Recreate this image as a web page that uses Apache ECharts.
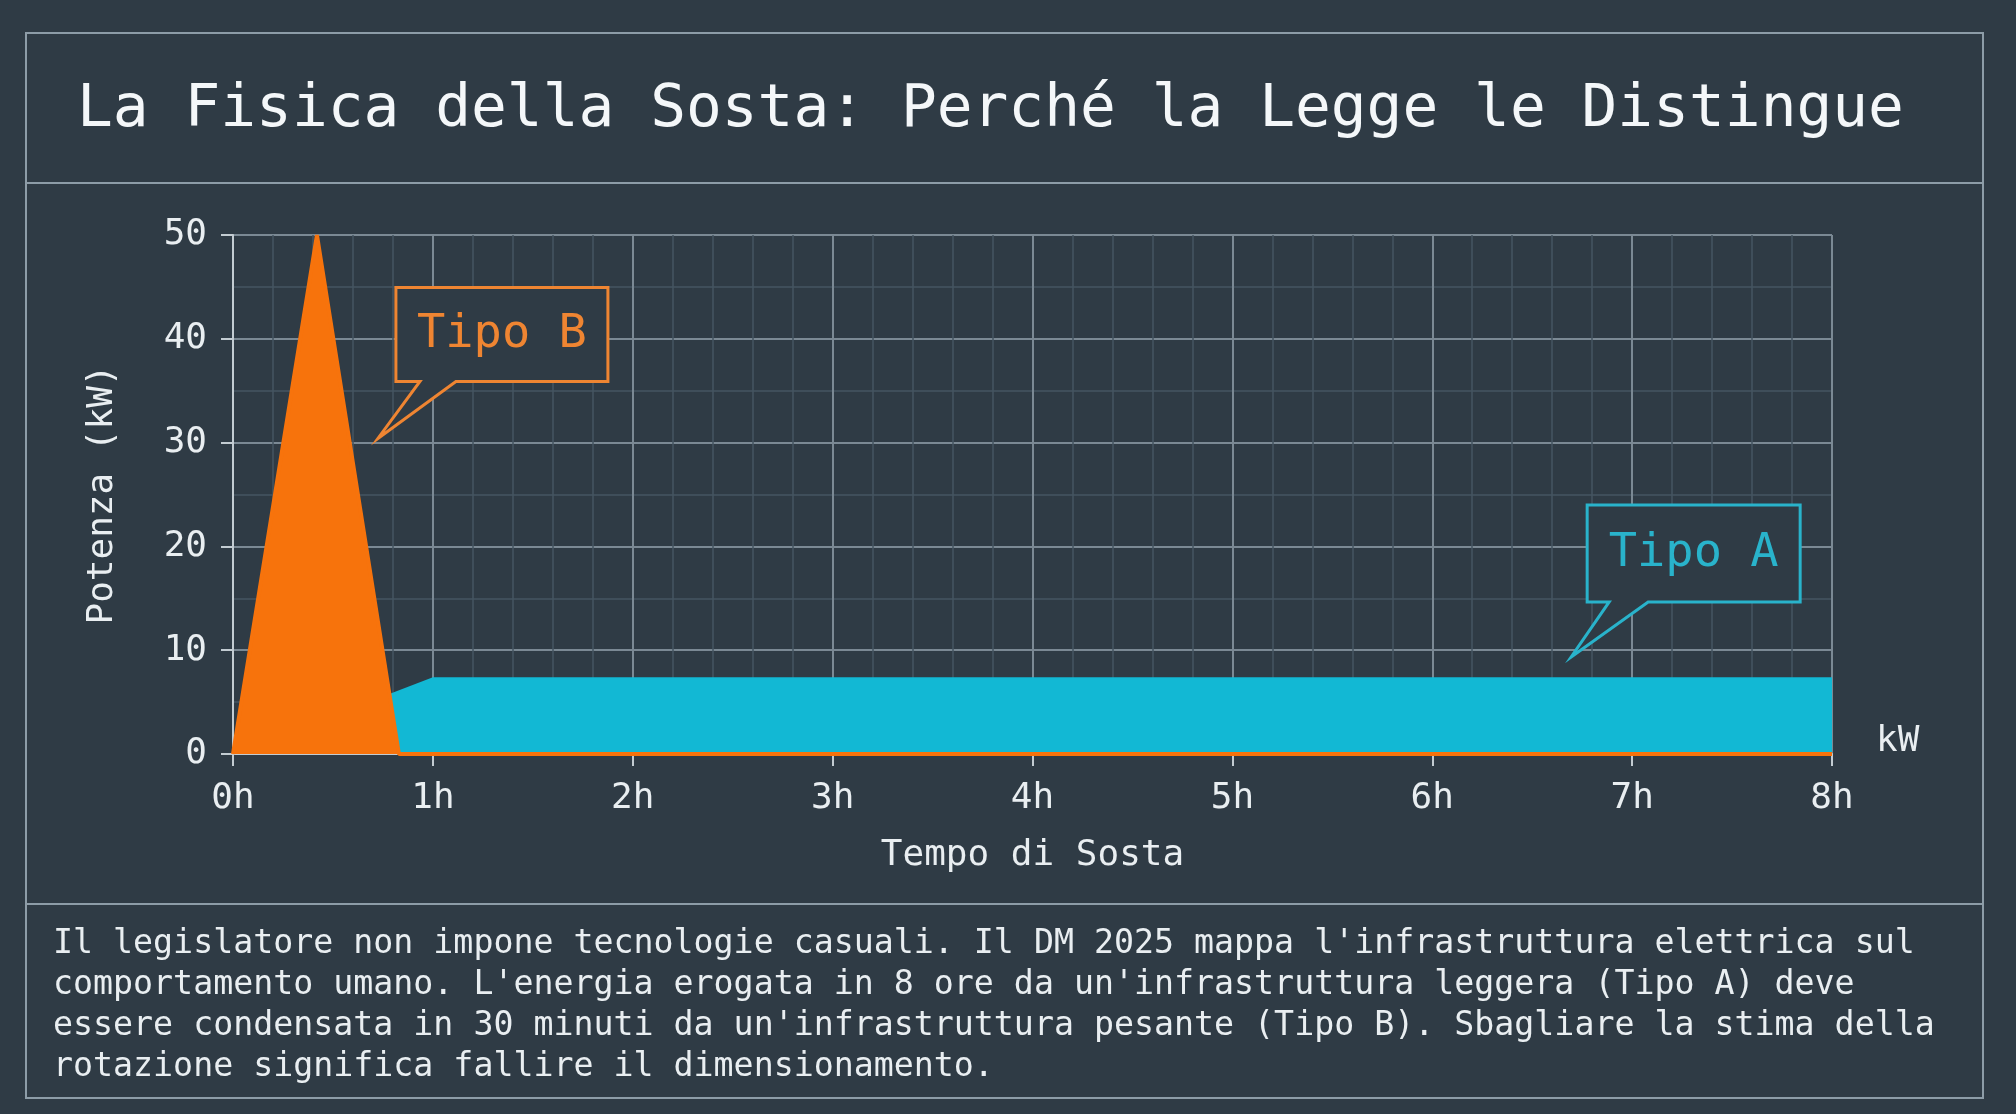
<!DOCTYPE html>
<html><head><meta charset="utf-8">
<script src="https://cdn.jsdelivr.net/npm/echarts@6/dist/echarts.min.js"></script>
<style>html,body{margin:0;padding:0;background:#2f3b45;}#c{width:2016px;height:1114px;}</style>
</head><body><div id="c"></div>
<script>
const title = "La Fisica della Sosta: Perché la Legge le Distingue";
const bodyLines = [
  "Il legislatore non impone tecnologie casuali. Il DM 2025 mappa l'infrastruttura elettrica sul",
  "comportamento umano. L'energia erogata in 8 ore da un'infrastruttura leggera (Tipo A) deve",
  "essere condensata in 30 minuti da un'infrastruttura pesante (Tipo B). Sbagliare la stima della",
  "rotazione significa fallire il dimensionamento."
];
const xName = "Tempo di Sosta";
const yName = "Potenza (kW)";
const unitLabel = "kW";
// Tipo A: light charging (hours, kW)
const tipoA = [[0, 0], [1, 7.4], [8, 7.4]];
// Tipo B: fast charging peak (hours, kW)
const tipoB = [[0, 0], [0.42, 50], [0.83, 0], [8, 0]];
const calloutLabels = ["Tipo B", "Tipo A"];
const calloutTips = [[0.725, 30.4], [6.695, 9.35]];

const FONT = "'DejaVu Sans Mono', 'Liberation Mono', monospace";
const BG = "#2f3b45";
const ORANGE = "#f7730c";
const CYAN = "#12b8d4";
const ORANGE_T = "#ef8532";
const CYAN_T = "#29b3cb";
const BORDER = "#8d9ca7";

const chart = echarts.init(document.getElementById('c'));
const option = {
  backgroundColor: BG,
  animation: false,
  grid: { left: 233, right: 184, top: 235, bottom: 360 },
  xAxis: {
    type: 'value', min: 0, max: 8, interval: 1,
    name: xName, nameLocation: 'middle', nameGap: 84,
    nameTextStyle: { color: '#e9eef1', fontSize: 36, fontFamily: FONT },
    axisLine: { show: true, lineStyle: { color: '#c3ccd2', width: 2 } },
    axisTick: { show: true, length: 12, lineStyle: { color: '#c3ccd2', width: 2 } },
    axisLabel: { formatter: '{value}h', color: '#e9eef1', fontSize: 36, fontFamily: FONT, margin: 27 },
    splitLine: { show: true, lineStyle: { color: '#7b8994', width: 2 } },
    minorTick: { show: false, splitNumber: 5 },
    minorSplitLine: { show: true, lineStyle: { color: '#465562', width: 1.5 } }
  },
  yAxis: {
    type: 'value', min: 0, max: 50, interval: 10,
    name: yName, nameLocation: 'middle', nameGap: 112,
    nameTextStyle: { color: '#e9eef1', fontSize: 36, fontFamily: FONT },
    axisLine: { show: true, lineStyle: { color: '#c3ccd2', width: 2 } },
    axisTick: { show: true, length: 12, lineStyle: { color: '#c3ccd2', width: 2 } },
    axisLabel: { color: '#e9eef1', fontSize: 36, fontFamily: FONT, margin: 26 },
    splitLine: { show: true, lineStyle: { color: '#7b8994', width: 2 } },
    minorTick: { show: false, splitNumber: 2 },
    minorSplitLine: { show: true, lineStyle: { color: '#465562', width: 1.5 } }
  },
  series: [
    { type: 'line', data: tipoA, symbol: 'none', z: 3,
      lineStyle: { color: CYAN, width: 0 }, itemStyle: { color: CYAN },
      areaStyle: { color: CYAN, opacity: 1 } },
    { type: 'line', data: tipoB, symbol: 'none', z: 4,
      lineStyle: { color: ORANGE, width: 4 }, itemStyle: { color: ORANGE },
      areaStyle: { color: ORANGE, opacity: 1 } }
  ]
};
chart.setOption(option);

function callout(tip, label, color, tcolor, box) {
  const p = chart.convertToPixel({ gridIndex: 0 }, tip);
  const [l, t, r, b, b1, b2] = box;
  const pts = [
    [p[0] + l, p[1] + t], [p[0] + r, p[1] + t], [p[0] + r, p[1] + b],
    [p[0] + b2, p[1] + b], [p[0], p[1]], [p[0] + b1, p[1] + b], [p[0] + l, p[1] + b]
  ];
  return [
    { type: 'polygon', z: 50, shape: { points: pts },
      style: { fill: BG, stroke: color, lineWidth: 3, lineJoin: 'miter' } },
    { type: 'text', z: 51, x: p[0] + (l + r) / 2, y: p[1] + (t + b) / 2,
      style: { text: label, fill: tcolor, font: '47px ' + FONT, textAlign: 'center', textVerticalAlign: 'middle' } }
  ];
}

const xEnd = chart.convertToPixel({ gridIndex: 0 }, [8, 0]);

const graphics = [
  { type: 'rect', z: 0, shape: { x: 26, y: 33, width: 1957, height: 1065 },
    style: { fill: 'none', stroke: BORDER, lineWidth: 2 } },
  { type: 'line', z: 0, shape: { x1: 26, y1: 183, x2: 1983, y2: 183 }, style: { stroke: BORDER, lineWidth: 2 } },
  { type: 'line', z: 0, shape: { x1: 26, y1: 904, x2: 1983, y2: 904 }, style: { stroke: BORDER, lineWidth: 2 } },
  { type: 'text', z: 10, x: 77, y: 111,
    style: { text: title, fill: '#f4f7f9', font: '59.5px ' + FONT, textVerticalAlign: 'middle' } },
  { type: 'text', z: 10, x: 53, y: 924,
    style: { text: bodyLines.join('\n'), fill: '#e9eef1', font: '33.25px ' + FONT, lineHeight: 41, textVerticalAlign: 'top' } },
  { type: 'text', z: 10, x: xEnd[0] + 44, y: xEnd[1] - 12,
    style: { text: unitLabel, fill: '#e9eef1', font: '36px ' + FONT, textVerticalAlign: 'middle' } }
];
graphics.push(...callout(calloutTips[0], calloutLabels[0], ORANGE_T, ORANGE_T, [18, -151, 230, -57, 42, 78]));
graphics.push(...callout(calloutTips[1], calloutLabels[1], CYAN_T, CYAN_T, [16, -152, 229, -55, 38, 77]));
chart.setOption({ graphic: graphics });
</script></body></html>
